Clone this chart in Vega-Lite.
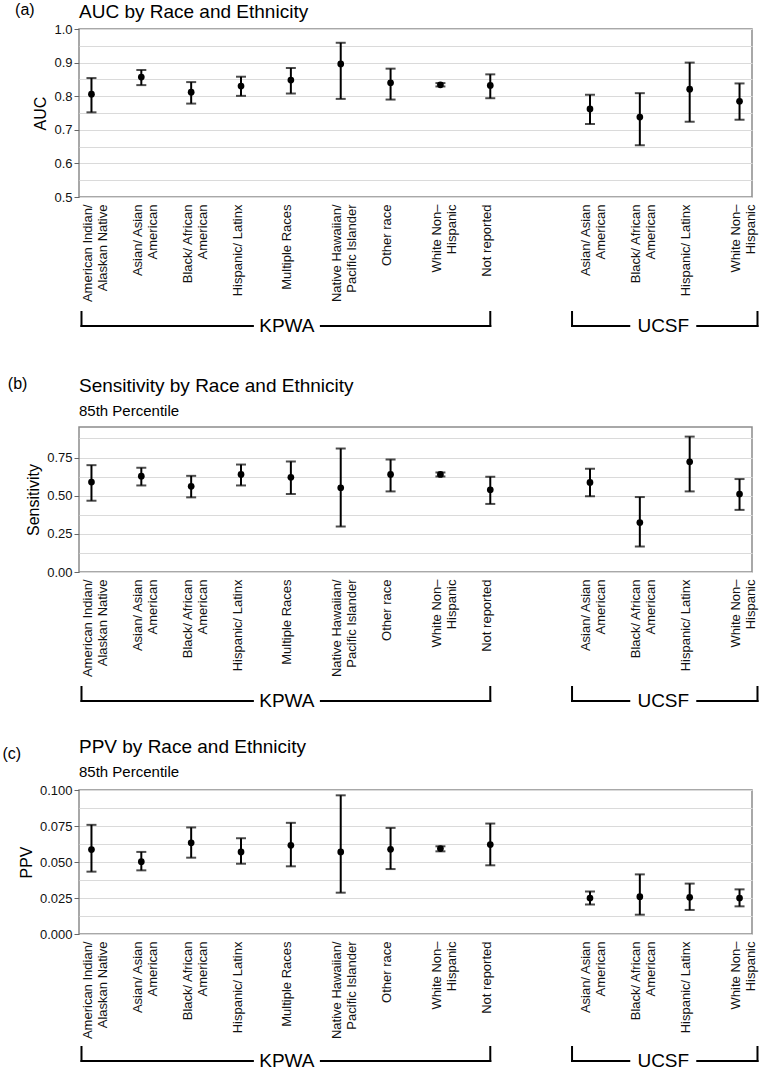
{
  "$schema": "https://vega.github.io/schema/vega-lite/v6.json",
  "padding": {"left": 2, "top": 2, "right": 4, "bottom": 0},
  "columns": 1,
  "align": "none",
  "spacing": 26,
  "config": {
    "font": "Liberation Sans",
    "view": {"stroke": "#8c8c8c", "strokeWidth": 1.5},
    "axis": {"labelFontSize": 13, "labelColor": "#111111", "titleFontSize": 16, "titleFontWeight": "normal", "titleColor": "#000000", "domain": false, "gridColor": "#dadada", "gridWidth": 1, "tickColor": "#666666"},
    "title": {"fontSize": 19, "fontWeight": "normal", "subtitleFontSize": 15, "subtitleColor": "#000000", "color": "#000000", "anchor": "start", "subtitlePadding": 8, "offset": 8}
  },
  "datasets": {
    "metrics": [
      {"metric": "AUC", "cohort": "KPWA: American Indian/\nAlaskan Native", "estimate": 0.806, "lower": 0.752, "upper": 0.854},
      {"metric": "AUC", "cohort": "KPWA: Asian/ Asian\nAmerican", "estimate": 0.857, "lower": 0.833, "upper": 0.878},
      {"metric": "AUC", "cohort": "KPWA: Black/ African\nAmerican", "estimate": 0.812, "lower": 0.778, "upper": 0.842},
      {"metric": "AUC", "cohort": "KPWA: Hispanic/ Latinx", "estimate": 0.830, "lower": 0.801, "upper": 0.858},
      {"metric": "AUC", "cohort": "KPWA: Multiple Races", "estimate": 0.848, "lower": 0.808, "upper": 0.884},
      {"metric": "AUC", "cohort": "KPWA: Native Hawaiian/\nPacific Islander", "estimate": 0.896, "lower": 0.792, "upper": 0.959},
      {"metric": "AUC", "cohort": "KPWA: Other race", "estimate": 0.840, "lower": 0.790, "upper": 0.882},
      {"metric": "AUC", "cohort": "KPWA: White Non–\nHispanic", "estimate": 0.834, "lower": 0.829, "upper": 0.839},
      {"metric": "AUC", "cohort": "KPWA: Not reported", "estimate": 0.832, "lower": 0.794, "upper": 0.865},
      {"metric": "AUC", "cohort": "UCSF: Asian/ Asian\nAmerican", "estimate": 0.762, "lower": 0.717, "upper": 0.804},
      {"metric": "AUC", "cohort": "UCSF: Black/ African\nAmerican", "estimate": 0.738, "lower": 0.654, "upper": 0.809},
      {"metric": "AUC", "cohort": "UCSF: Hispanic/ Latinx", "estimate": 0.821, "lower": 0.724, "upper": 0.900},
      {"metric": "AUC", "cohort": "UCSF: White Non–\nHispanic", "estimate": 0.785, "lower": 0.730, "upper": 0.838},
      {"metric": "Sensitivity", "cohort": "KPWA: American Indian/\nAlaskan Native", "estimate": 0.589, "lower": 0.467, "upper": 0.700},
      {"metric": "Sensitivity", "cohort": "KPWA: Asian/ Asian\nAmerican", "estimate": 0.628, "lower": 0.567, "upper": 0.683},
      {"metric": "Sensitivity", "cohort": "KPWA: Black/ African\nAmerican", "estimate": 0.561, "lower": 0.489, "upper": 0.630},
      {"metric": "Sensitivity", "cohort": "KPWA: Hispanic/ Latinx", "estimate": 0.639, "lower": 0.567, "upper": 0.704},
      {"metric": "Sensitivity", "cohort": "KPWA: Multiple Races", "estimate": 0.620, "lower": 0.511, "upper": 0.724},
      {"metric": "Sensitivity", "cohort": "KPWA: Native Hawaiian/\nPacific Islander", "estimate": 0.552, "lower": 0.298, "upper": 0.809},
      {"metric": "Sensitivity", "cohort": "KPWA: Other race", "estimate": 0.639, "lower": 0.528, "upper": 0.737},
      {"metric": "Sensitivity", "cohort": "KPWA: White Non–\nHispanic", "estimate": 0.639, "lower": 0.626, "upper": 0.652},
      {"metric": "Sensitivity", "cohort": "KPWA: Not reported", "estimate": 0.539, "lower": 0.446, "upper": 0.624},
      {"metric": "Sensitivity", "cohort": "UCSF: Asian/ Asian\nAmerican", "estimate": 0.587, "lower": 0.496, "upper": 0.676},
      {"metric": "Sensitivity", "cohort": "UCSF: Black/ African\nAmerican", "estimate": 0.324, "lower": 0.167, "upper": 0.491},
      {"metric": "Sensitivity", "cohort": "UCSF: Hispanic/ Latinx", "estimate": 0.722, "lower": 0.528, "upper": 0.887},
      {"metric": "Sensitivity", "cohort": "UCSF: White Non–\nHispanic", "estimate": 0.511, "lower": 0.407, "upper": 0.609},
      {"metric": "PPV", "cohort": "KPWA: American Indian/\nAlaskan Native", "estimate": 0.0586, "lower": 0.0433, "upper": 0.0758},
      {"metric": "PPV", "cohort": "KPWA: Asian/ Asian\nAmerican", "estimate": 0.0502, "lower": 0.0442, "upper": 0.0570},
      {"metric": "PPV", "cohort": "KPWA: Black/ African\nAmerican", "estimate": 0.0633, "lower": 0.0530, "upper": 0.0740},
      {"metric": "PPV", "cohort": "KPWA: Hispanic/ Latinx", "estimate": 0.0570, "lower": 0.0488, "upper": 0.0665},
      {"metric": "PPV", "cohort": "KPWA: Multiple Races", "estimate": 0.0616, "lower": 0.0470, "upper": 0.0772},
      {"metric": "PPV", "cohort": "KPWA: Native Hawaiian/\nPacific Islander", "estimate": 0.0570, "lower": 0.0287, "upper": 0.0963},
      {"metric": "PPV", "cohort": "KPWA: Other race", "estimate": 0.0588, "lower": 0.0451, "upper": 0.0737},
      {"metric": "PPV", "cohort": "KPWA: White Non–\nHispanic", "estimate": 0.0593, "lower": 0.0574, "upper": 0.0609},
      {"metric": "PPV", "cohort": "KPWA: Not reported", "estimate": 0.0621, "lower": 0.0477, "upper": 0.0767},
      {"metric": "PPV", "cohort": "UCSF: Asian/ Asian\nAmerican", "estimate": 0.0250, "lower": 0.0204, "upper": 0.0296},
      {"metric": "PPV", "cohort": "UCSF: Black/ African\nAmerican", "estimate": 0.0259, "lower": 0.0134, "upper": 0.0414},
      {"metric": "PPV", "cohort": "UCSF: Hispanic/ Latinx", "estimate": 0.0255, "lower": 0.0167, "upper": 0.0350},
      {"metric": "PPV", "cohort": "UCSF: White Non–\nHispanic", "estimate": 0.0250, "lower": 0.0192, "upper": 0.0310}
    ],
    "sites": [
      {"site": "KPWA", "start": -0.2, "end": 8.0, "mid": 3.92},
      {"site": "UCSF", "start": 9.64, "end": 13.36, "mid": 11.47}
    ]
  },
  "concat": [
    {
      "title": {"text": "(a)", "orient": "left", "anchor": "end", "angle": 0, "align": "right", "baseline": "top", "fontSize": 16, "offset": -22},
      "spacing": 7,
      "vconcat": [
        {
          "width": 673, "height": 168,
          "title": {"text": "AUC by Race and Ethnicity", "frame": "group", "offset": 1},
          "data": {"name": "metrics"},
          "transform": [{"filter": "datum.metric === 'AUC'"}],
          "encoding": {
            "x": {"field": "cohort", "type": "nominal", "scale": {"type": "point", "padding": 0.25, "domain": ["KPWA: American Indian/\nAlaskan Native", "KPWA: Asian/ Asian\nAmerican", "KPWA: Black/ African\nAmerican", "KPWA: Hispanic/ Latinx", "KPWA: Multiple Races", "KPWA: Native Hawaiian/\nPacific Islander", "KPWA: Other race", "KPWA: White Non–\nHispanic", "KPWA: Not reported", "(gap)", "UCSF: Asian/ Asian\nAmerican", "UCSF: Black/ African\nAmerican", "UCSF: Hispanic/ Latinx", "UCSF: White Non–\nHispanic"]},
              "axis": {"title": null, "labelAngle": -90, "ticks": false, "grid": false, "labelPadding": 7, "labelLineHeight": 15, "labelOffset": -4, "labelOverlap": false, "labelExpr": "split(slice(datum.value, 6), '\\n')"}}
          },
          "layer": [
            {"mark": {"type": "errorbar", "ticks": true, "size": 10, "thickness": 2, "color": "#000000"},
             "encoding": {
               "y": {"field": "lower", "type": "quantitative", "scale": {"domain": [0.5, 1], "nice": false, "zero": false},
                 "axis": {"title": "AUC", "values": [0.5, 0.55, 0.6, 0.65, 0.7, 0.75, 0.8, 0.85, 0.9, 0.95, 1.0], "labelExpr": "abs(datum.value*10 - round(datum.value*10)) < 0.001 ? format(datum.value, '.1f') : ''", "tickSize": 5, "tickOpacity": {"condition": {"test": "abs(datum.value*10 - round(datum.value*10)) < 0.001", "value": 1}, "value": 0}, "labelPadding": 2, "titlePadding": 5, "grid": true}},
               "y2": {"field": "upper"}}},
            {"mark": {"type": "point", "filled": true, "size": 45, "color": "#000000", "opacity": 1},
             "encoding": {
               "y": {"field": "estimate", "type": "quantitative", "scale": {"domain": [0.5, 1], "nice": false, "zero": false},
                 "axis": {"title": "AUC", "values": [0.5, 0.55, 0.6, 0.65, 0.7, 0.75, 0.8, 0.85, 0.9, 0.95, 1.0], "labelExpr": "abs(datum.value*10 - round(datum.value*10)) < 0.001 ? format(datum.value, '.1f') : ''", "tickSize": 5, "tickOpacity": {"condition": {"test": "abs(datum.value*10 - round(datum.value*10)) < 0.001", "value": 1}, "value": 0}, "labelPadding": 2, "titlePadding": 5, "grid": true}}}}
          ]
        },
        {
          "width": 673, "height": 38,
          "view": {"stroke": null},
          "data": {"name": "sites"},
          "layer": [
            {"mark": {"type": "rule", "strokeWidth": 2, "color": "#000000", "strokeCap": "square"},
             "encoding": {"x": {"field": "start", "type": "quantitative", "scale": {"domain": [-0.25, 13.25], "nice": false, "zero": false}, "axis": null}, "y": {"datum": 0, "type": "quantitative", "scale": {"domain": [-1.714, 1], "nice": false, "zero": false}, "axis": null}, "y2": {"datum": 1}}},
            {"mark": {"type": "rule", "strokeWidth": 2, "color": "#000000", "strokeCap": "square"},
             "encoding": {"x": {"field": "end", "type": "quantitative", "scale": {"domain": [-0.25, 13.25], "nice": false, "zero": false}, "axis": null}, "y": {"datum": 0, "type": "quantitative", "scale": {"domain": [-1.714, 1], "nice": false, "zero": false}, "axis": null}, "y2": {"datum": 1}}},
            {"mark": {"type": "rule", "strokeWidth": 2, "color": "#000000", "strokeCap": "square", "x2Offset": -34},
             "encoding": {"x": {"field": "start", "type": "quantitative", "scale": {"domain": [-0.25, 13.25], "nice": false, "zero": false}, "axis": null}, "x2": {"field": "mid"}, "y": {"datum": 0, "type": "quantitative", "scale": {"domain": [-1.714, 1], "nice": false, "zero": false}, "axis": null}}},
            {"mark": {"type": "rule", "strokeWidth": 2, "color": "#000000", "strokeCap": "square", "xOffset": 34},
             "encoding": {"x": {"field": "mid", "type": "quantitative", "scale": {"domain": [-0.25, 13.25], "nice": false, "zero": false}, "axis": null}, "x2": {"field": "end"}, "y": {"datum": 0, "type": "quantitative", "scale": {"domain": [-1.714, 1], "nice": false, "zero": false}, "axis": null}}},
            {"mark": {"type": "text", "fontSize": 19, "baseline": "middle", "align": "center", "color": "#000000"},
             "encoding": {"x": {"field": "mid", "type": "quantitative", "scale": {"domain": [-0.25, 13.25], "nice": false, "zero": false}, "axis": null}, "y": {"datum": 0, "type": "quantitative", "scale": {"domain": [-1.714, 1], "nice": false, "zero": false}, "axis": null}, "text": {"field": "site"}}}
          ]
        }
      ]
    },
    {
      "title": {"text": "(b)", "orient": "left", "anchor": "end", "angle": 0, "align": "right", "baseline": "top", "fontSize": 16, "offset": -22},
      "spacing": 7,
      "vconcat": [
        {
          "width": 673, "height": 145,
          "title": {"text": "Sensitivity by Race and Ethnicity", "subtitle": "85th Percentile", "frame": "group"},
          "data": {"name": "metrics"},
          "transform": [{"filter": "datum.metric === 'Sensitivity'"}],
          "encoding": {
            "x": {"field": "cohort", "type": "nominal", "scale": {"type": "point", "padding": 0.25, "domain": ["KPWA: American Indian/\nAlaskan Native", "KPWA: Asian/ Asian\nAmerican", "KPWA: Black/ African\nAmerican", "KPWA: Hispanic/ Latinx", "KPWA: Multiple Races", "KPWA: Native Hawaiian/\nPacific Islander", "KPWA: Other race", "KPWA: White Non–\nHispanic", "KPWA: Not reported", "(gap)", "UCSF: Asian/ Asian\nAmerican", "UCSF: Black/ African\nAmerican", "UCSF: Hispanic/ Latinx", "UCSF: White Non–\nHispanic"]},
              "axis": {"title": null, "labelAngle": -90, "ticks": false, "grid": false, "labelPadding": 7, "labelLineHeight": 15, "labelOffset": -4, "labelOverlap": false, "labelExpr": "split(slice(datum.value, 6), '\\n')"}}
          },
          "layer": [
            {"mark": {"type": "errorbar", "ticks": true, "size": 10, "thickness": 2, "color": "#000000"},
             "encoding": {
               "y": {"field": "lower", "type": "quantitative", "scale": {"domain": [0, 0.95], "nice": false, "zero": false},
                 "axis": {"title": "Sensitivity", "values": [0, 0.125, 0.25, 0.375, 0.5, 0.625, 0.75, 0.875], "labelExpr": "abs(datum.value*4 - round(datum.value*4)) < 0.001 ? format(datum.value, '.2f') : ''", "tickSize": 5, "tickOpacity": {"condition": {"test": "abs(datum.value*4 - round(datum.value*4)) < 0.001", "value": 1}, "value": 0}, "labelPadding": 2, "titlePadding": 5, "grid": true}},
               "y2": {"field": "upper"}}},
            {"mark": {"type": "point", "filled": true, "size": 45, "color": "#000000", "opacity": 1},
             "encoding": {
               "y": {"field": "estimate", "type": "quantitative", "scale": {"domain": [0, 0.95], "nice": false, "zero": false},
                 "axis": {"title": "Sensitivity", "values": [0, 0.125, 0.25, 0.375, 0.5, 0.625, 0.75, 0.875], "labelExpr": "abs(datum.value*4 - round(datum.value*4)) < 0.001 ? format(datum.value, '.2f') : ''", "tickSize": 5, "tickOpacity": {"condition": {"test": "abs(datum.value*4 - round(datum.value*4)) < 0.001", "value": 1}, "value": 0}, "labelPadding": 2, "titlePadding": 5, "grid": true}}}}
          ]
        },
        {
          "width": 673, "height": 14,
          "view": {"stroke": null},
          "data": {"name": "sites"},
          "layer": [
            {"mark": {"type": "rule", "strokeWidth": 2, "color": "#000000", "strokeCap": "square"},
             "encoding": {"x": {"field": "start", "type": "quantitative", "scale": {"domain": [-0.25, 13.25], "nice": false, "zero": false}, "axis": null}, "y": {"datum": 0, "type": "quantitative", "scale": {"domain": [0, 1]}, "axis": null}, "y2": {"datum": 1}}},
            {"mark": {"type": "rule", "strokeWidth": 2, "color": "#000000", "strokeCap": "square"},
             "encoding": {"x": {"field": "end", "type": "quantitative", "scale": {"domain": [-0.25, 13.25], "nice": false, "zero": false}, "axis": null}, "y": {"datum": 0, "type": "quantitative", "scale": {"domain": [0, 1]}, "axis": null}, "y2": {"datum": 1}}},
            {"mark": {"type": "rule", "strokeWidth": 2, "color": "#000000", "strokeCap": "square", "x2Offset": -34},
             "encoding": {"x": {"field": "start", "type": "quantitative", "scale": {"domain": [-0.25, 13.25], "nice": false, "zero": false}, "axis": null}, "x2": {"field": "mid"}, "y": {"datum": 0, "type": "quantitative", "scale": {"domain": [0, 1]}, "axis": null}}},
            {"mark": {"type": "rule", "strokeWidth": 2, "color": "#000000", "strokeCap": "square", "xOffset": 34},
             "encoding": {"x": {"field": "mid", "type": "quantitative", "scale": {"domain": [-0.25, 13.25], "nice": false, "zero": false}, "axis": null}, "x2": {"field": "end"}, "y": {"datum": 0, "type": "quantitative", "scale": {"domain": [0, 1]}, "axis": null}}},
            {"mark": {"type": "text", "fontSize": 19, "baseline": "middle", "align": "center", "color": "#000000"},
             "encoding": {"x": {"field": "mid", "type": "quantitative", "scale": {"domain": [-0.25, 13.25], "nice": false, "zero": false}, "axis": null}, "y": {"datum": 0, "type": "quantitative", "scale": {"domain": [0, 1]}, "axis": null}, "text": {"field": "site"}}}
          ]
        }
      ]
    },
    {
      "title": {"text": "(c)", "orient": "left", "anchor": "end", "angle": 0, "align": "right", "baseline": "top", "fontSize": 16, "offset": -22, "dy": 9},
      "spacing": 5,
      "vconcat": [
        {
          "width": 673, "height": 144,
          "title": {"text": "PPV by Race and Ethnicity", "subtitle": "85th Percentile", "frame": "group", "offset": 4},
          "data": {"name": "metrics"},
          "transform": [{"filter": "datum.metric === 'PPV'"}],
          "encoding": {
            "x": {"field": "cohort", "type": "nominal", "scale": {"type": "point", "padding": 0.25, "domain": ["KPWA: American Indian/\nAlaskan Native", "KPWA: Asian/ Asian\nAmerican", "KPWA: Black/ African\nAmerican", "KPWA: Hispanic/ Latinx", "KPWA: Multiple Races", "KPWA: Native Hawaiian/\nPacific Islander", "KPWA: Other race", "KPWA: White Non–\nHispanic", "KPWA: Not reported", "(gap)", "UCSF: Asian/ Asian\nAmerican", "UCSF: Black/ African\nAmerican", "UCSF: Hispanic/ Latinx", "UCSF: White Non–\nHispanic"]},
              "axis": {"title": null, "labelAngle": -90, "ticks": false, "grid": false, "labelPadding": 7, "labelLineHeight": 15, "labelOffset": -4, "labelOverlap": false, "labelExpr": "split(slice(datum.value, 6), '\\n')"}}
          },
          "layer": [
            {"mark": {"type": "errorbar", "ticks": true, "size": 10, "thickness": 2, "color": "#000000"},
             "encoding": {
               "y": {"field": "lower", "type": "quantitative", "scale": {"domain": [0, 0.1], "nice": false, "zero": false},
                 "axis": {"title": "PPV", "values": [0, 0.0125, 0.025, 0.0375, 0.05, 0.0625, 0.075, 0.0875, 0.1], "labelExpr": "abs(datum.value*40 - round(datum.value*40)) < 0.001 ? format(datum.value, '.3f') : ''", "tickSize": 5, "tickOpacity": {"condition": {"test": "abs(datum.value*40 - round(datum.value*40)) < 0.001", "value": 1}, "value": 0}, "labelPadding": 2, "titlePadding": 5, "grid": true}},
               "y2": {"field": "upper"}}},
            {"mark": {"type": "point", "filled": true, "size": 45, "color": "#000000", "opacity": 1},
             "encoding": {
               "y": {"field": "estimate", "type": "quantitative", "scale": {"domain": [0, 0.1], "nice": false, "zero": false},
                 "axis": {"title": "PPV", "values": [0, 0.0125, 0.025, 0.0375, 0.05, 0.0625, 0.075, 0.0875, 0.1], "labelExpr": "abs(datum.value*40 - round(datum.value*40)) < 0.001 ? format(datum.value, '.3f') : ''", "tickSize": 5, "tickOpacity": {"condition": {"test": "abs(datum.value*40 - round(datum.value*40)) < 0.001", "value": 1}, "value": 0}, "labelPadding": 2, "titlePadding": 5, "grid": true}}}}
          ]
        },
        {
          "width": 673, "height": 14,
          "view": {"stroke": null},
          "data": {"name": "sites"},
          "layer": [
            {"mark": {"type": "rule", "strokeWidth": 2, "color": "#000000", "strokeCap": "square"},
             "encoding": {"x": {"field": "start", "type": "quantitative", "scale": {"domain": [-0.25, 13.25], "nice": false, "zero": false}, "axis": null}, "y": {"datum": 0, "type": "quantitative", "scale": {"domain": [0, 1]}, "axis": null}, "y2": {"datum": 1}}},
            {"mark": {"type": "rule", "strokeWidth": 2, "color": "#000000", "strokeCap": "square"},
             "encoding": {"x": {"field": "end", "type": "quantitative", "scale": {"domain": [-0.25, 13.25], "nice": false, "zero": false}, "axis": null}, "y": {"datum": 0, "type": "quantitative", "scale": {"domain": [0, 1]}, "axis": null}, "y2": {"datum": 1}}},
            {"mark": {"type": "rule", "strokeWidth": 2, "color": "#000000", "strokeCap": "square", "x2Offset": -34},
             "encoding": {"x": {"field": "start", "type": "quantitative", "scale": {"domain": [-0.25, 13.25], "nice": false, "zero": false}, "axis": null}, "x2": {"field": "mid"}, "y": {"datum": 0, "type": "quantitative", "scale": {"domain": [0, 1]}, "axis": null}}},
            {"mark": {"type": "rule", "strokeWidth": 2, "color": "#000000", "strokeCap": "square", "xOffset": 34},
             "encoding": {"x": {"field": "mid", "type": "quantitative", "scale": {"domain": [-0.25, 13.25], "nice": false, "zero": false}, "axis": null}, "x2": {"field": "end"}, "y": {"datum": 0, "type": "quantitative", "scale": {"domain": [0, 1]}, "axis": null}}},
            {"mark": {"type": "text", "fontSize": 19, "baseline": "middle", "align": "center", "color": "#000000"},
             "encoding": {"x": {"field": "mid", "type": "quantitative", "scale": {"domain": [-0.25, 13.25], "nice": false, "zero": false}, "axis": null}, "y": {"datum": 0, "type": "quantitative", "scale": {"domain": [0, 1]}, "axis": null}, "text": {"field": "site"}}}
          ]
        }
      ]
    }
  ]
}
